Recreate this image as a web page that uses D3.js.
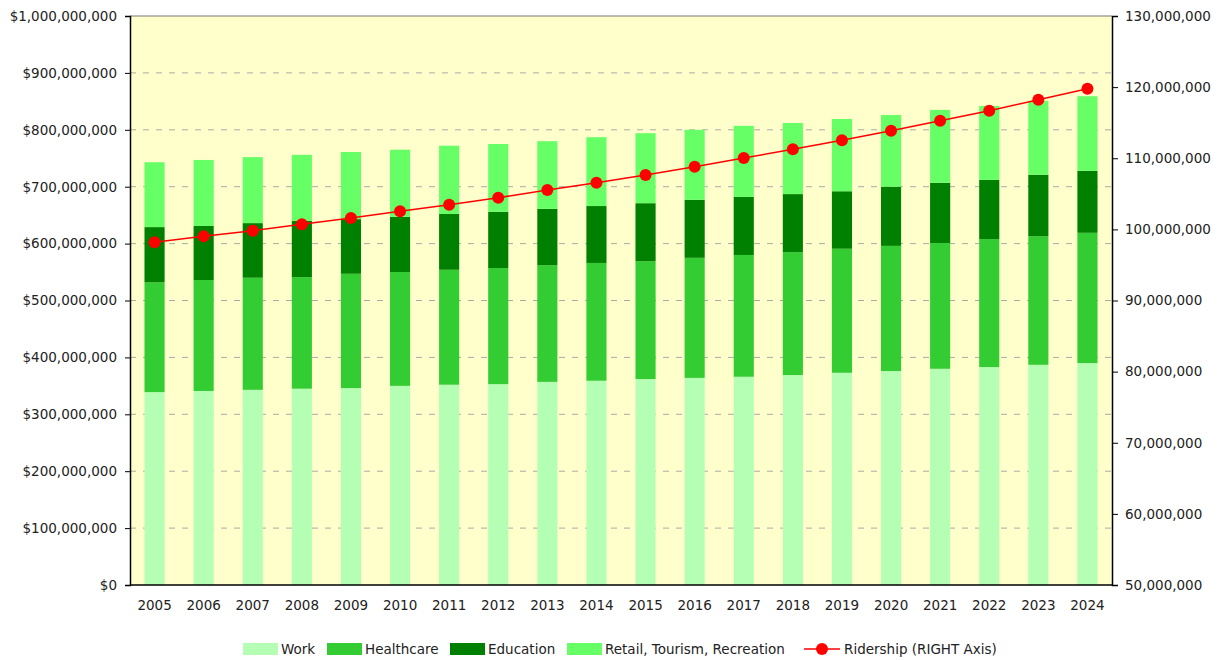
<!DOCTYPE html>
<html>
<head>
<meta charset="utf-8">
<script src="https://cdn.jsdelivr.net/npm/d3@7"></script>
<style>
  body { margin: 0; background: #fff; }
  text { font-family: "DejaVu Sans", Verdana, sans-serif; font-size: 13.5px; fill: #222; }
</style>
</head>
<body>
<div id="chart"></div>
<script>
const years = ["2005","2006","2007","2008","2009","2010","2011","2012","2013","2014",
               "2015","2016","2017","2018","2019","2020","2021","2022","2023","2024"];
// dollars, in millions
const work       = [339,341,343,345,346,350,352,353,357,359,362,364,366,369,373,376,380,383,387,390];
const healthcare = [193,195,197,196,201,200,202,204,205,207,207,211,214,216,218,220,221,225,226,229];
const education  = [97,95,96,99,96,97,98,99,99,100,102,102,102,102,101,104,106,104,108,109];
const retail     = [114,116,116,116,118,118,120,119,119,121,123,123,125,125,127,126,128,130,130,131];
// riders, in millions
const ridership  = [98.18,99.03,99.81,100.71,101.6,102.54,103.47,104.45,105.54,106.56,
                    107.64,108.81,110.04,111.26,112.52,113.88,115.28,116.69,118.23,119.78];

const seriesNames = ["Work", "Healthcare", "Education", "Retail, Tourism, Recreation"];
const seriesColors = ["#b5ffb5", "#33cc33", "#008000", "#66ff66"];
const lineName = "Ridership (RIGHT Axis)";

const W = 1224, H = 660;
const m = { left: 130, right: 112, top: 16, bottom: 75 };
const iw = W - m.left - m.right, ih = H - m.top - m.bottom;

const svg = d3.select("#chart").append("svg").attr("width", W).attr("height", H);
const g = svg.append("g").attr("transform", "translate(" + m.left + "," + m.top + ")");

const rows = years.map(function(y, i) {
  return { year: y, Work: work[i] * 1e6, Healthcare: healthcare[i] * 1e6,
           Education: education[i] * 1e6, "Retail, Tourism, Recreation": retail[i] * 1e6 };
});
const stacked = d3.stack().keys(seriesNames)(rows);

const x = d3.scaleBand().domain(years).range([0, iw]).paddingInner(0.59).paddingOuter(0.295);
const y = d3.scaleLinear().domain([0, 1e9]).range([ih, 0]);
const y2 = d3.scaleLinear().domain([50e6, 130e6]).range([ih, 0]);

g.append("rect").attr("width", iw).attr("height", ih).attr("fill", "#ffffcc");

// gridlines
g.selectAll(".grid").data(y.ticks(10).filter(function(d) { return d > 0 && d < 1e9; }))
  .enter().append("line")
  .attr("x1", 0).attr("x2", iw)
  .attr("y1", function(d) { return y(d); }).attr("y2", function(d) { return y(d); })
  .attr("stroke", "#aaa").attr("stroke-dasharray", "6,7");

// stacked bars
g.selectAll(".layer").data(stacked).enter().append("g")
  .attr("fill", function(d, i) { return seriesColors[i]; })
  .selectAll("rect").data(function(d) { return d; })
  .enter().append("rect")
  .attr("x", function(d) { return x(d.data.year); })
  .attr("width", x.bandwidth())
  .attr("y", function(d) { return y(d[1]); })
  .attr("height", function(d) { return y(d[0]) - y(d[1]); });

// ridership line
const cx = function(d, i) { return x(years[i]) + x.bandwidth() / 2; };
const line = d3.line().x(cx).y(function(d) { return y2(d * 1e6); });
g.append("path").datum(ridership).attr("d", line)
  .attr("fill", "none").attr("stroke", "#ff0000").attr("stroke-width", 1.5);
g.selectAll(".pt").data(ridership).enter().append("circle")
  .attr("cx", cx).attr("cy", function(d) { return y2(d * 1e6); })
  .attr("r", 6).attr("fill", "#ff0000");

// frame
g.append("line").attr("x1", 0).attr("x2", iw).attr("y1", 0).attr("y2", 0).attr("stroke", "#777");

// axes
const fmtL = d3.format("$,");
const yAxis = g.append("g").call(d3.axisLeft(y).ticks(10).tickFormat(function(d) { return fmtL(d); }).tickSize(5).tickPadding(8));
const y2Axis = g.append("g").attr("transform", "translate(" + iw + ",0)")
  .call(d3.axisRight(y2).ticks(8).tickFormat(d3.format(",")).tickSize(6).tickPadding(7));
const xAxis = g.append("g").attr("transform", "translate(0," + ih + ")")
  .call(d3.axisBottom(x).tickSize(0).tickPadding(15));
[yAxis, y2Axis, xAxis].forEach(function(a) {
  a.select(".domain").attr("stroke", "#000").attr("stroke-width", 1.5);
  a.selectAll(".tick line").attr("stroke", "#000");
  a.selectAll("text").attr("fill", "#222").style("font-size", "13.5px");
});
xAxis.select(".domain").attr("d", "M0,0H" + iw);

// legend
const leg = svg.append("g").attr("transform", "translate(243,649)");
const legX = [0, 84, 207, 324];
seriesNames.forEach(function(name, i) {
  const it = leg.append("g").attr("transform", "translate(" + legX[i] + ",0)");
  it.append("rect").attr("y", -6).attr("width", 35).attr("height", 12).attr("fill", seriesColors[i]);
  it.append("text").attr("x", 38).attr("dy", "0.35em").text(name);
});
const li = leg.append("g").attr("transform", "translate(561,0)");
li.append("line").attr("x1", 0).attr("x2", 36).attr("stroke", "#ff0000").attr("stroke-width", 1.5);
li.append("circle").attr("cx", 18).attr("r", 6).attr("fill", "#ff0000");
li.append("text").attr("x", 40).attr("dy", "0.35em").text(lineName);
</script>
</body>
</html>
